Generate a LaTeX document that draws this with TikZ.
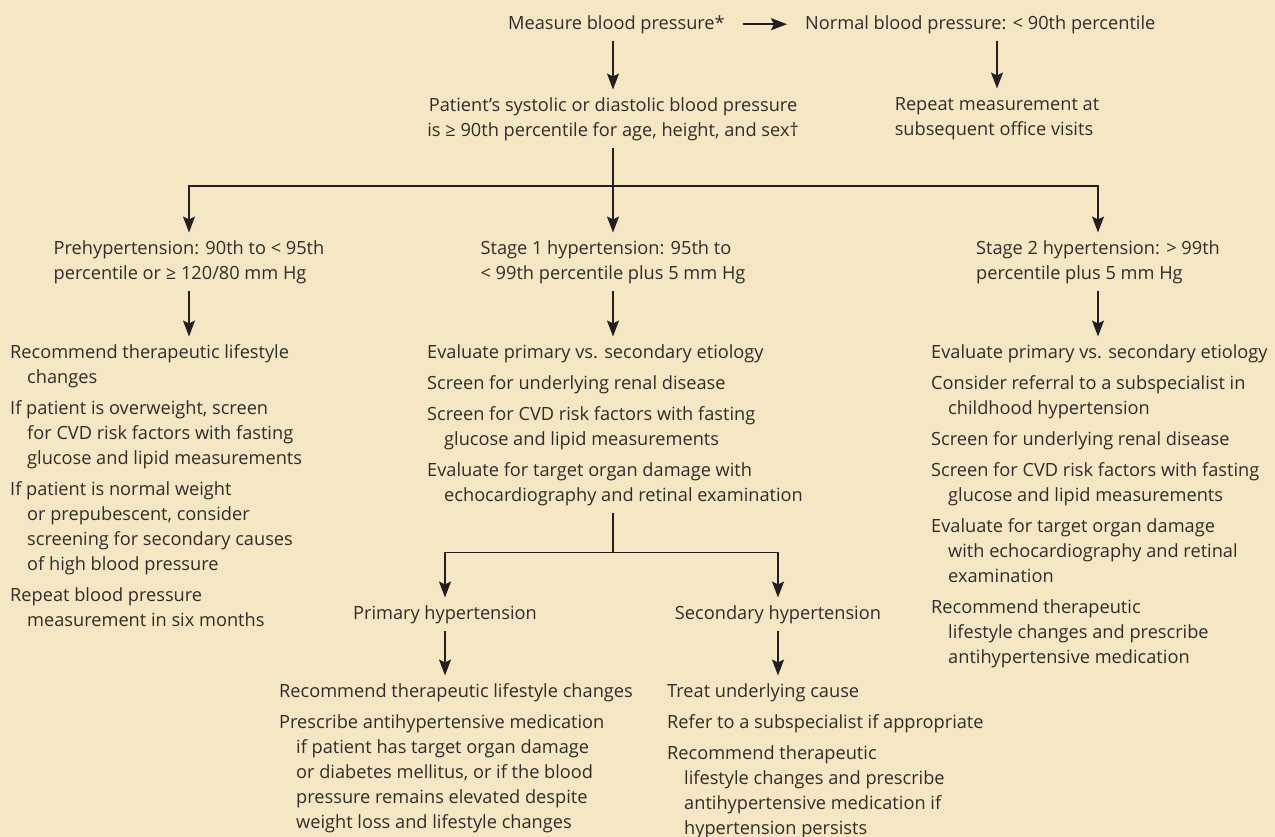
\documentclass[tikz,border=0pt]{standalone}
\usepackage{fontspec}
\setmainfont{Open Sans}
\usetikzlibrary{arrows.meta,positioning,calc}
\definecolor{paper}{RGB}{245,231,195}
\definecolor{ink}{RGB}{48,45,42}
\definecolor{linecol}{RGB}{35,31,32}
\newcommand{\flowfont}{\fontsize{18.2}{25}\selectfont}
\newcommand{\contline}{\hspace*{17pt}}
\tikzstyle{Tbox}=[inner sep=4pt,anchor=north west,align=left,text=ink,font=\flowfont]
\tikzstyle{Hbox}=[Tbox,anchor=north]
\tikzstyle{Cbox}=[Tbox,anchor=north,align=center]
\tikzstyle{flowline}=[line width=1.8pt,draw=linecol]
\tikzstyle{flowarrow}=[flowline,-{Stealth[length=16pt,width=12pt,inset=3pt]}]

\begin{document}
\begin{tikzpicture}[x=1pt,y=-1pt]
\fill[paper] (0,0) rectangle (1275,837);
\useasboundingbox (0,0) rectangle (1275,837);

\node[Tbox] (MEASURE) at (504,7.5) {\strut Measure blood pressure*\strut};
\node[Tbox] (NORMAL) at (801,7.5) {\strut Normal blood pressure: < 90th percentile\strut};

\node[Cbox] (PATIENT) at (613,89.5) {\strut Patient’s systolic or diastolic blood pressure\\
 is ≥ 90th percentile for age, height, and sex†\strut};
\node[Hbox] (REPEAT) at (997,88.5) {\strut Repeat measurement at\\
 subsequent office visits\strut};

\node[Hbox] (PRE) at (189,232.5) {\strut Prehypertension: 90th to < 95th\\
 percentile or ≥ 120/80 mm Hg\strut};
\node[Hbox] (STAGEA) at (613,232.5) {\strut Stage 1 hypertension: 95th to\\
 < 99th percentile plus 5 mm Hg\strut};
\node[Hbox] (STAGEB) at (1098,232.5) {\strut Stage 2 hypertension: > 99th\\
 percentile plus 5 mm Hg\strut};

\node[Tbox] (LEFTL) at (6,336.5) {\strut Recommend therapeutic lifestyle\\
 \contline changes\\[6pt]
 If patient is overweight, screen\\
 \contline for CVD risk factors with fasting\\
 \contline glucose and lipid measurements\\[6pt]
 If patient is normal weight\\
 \contline or prepubescent, consider\\
 \contline screening for secondary causes\\
 \contline of high blood pressure\\[6pt]
 Repeat blood pressure\\
 \contline measurement in six months\strut};

\node[Tbox] (MIDL) at (423,336.5) {\strut Evaluate primary vs. secondary etiology\\[6pt]
 Screen for underlying renal disease\\[6pt]
 Screen for CVD risk factors with fasting\\
 \contline glucose and lipid measurements\\[6pt]
 Evaluate for target organ damage with\\
 \contline echocardiography and retinal examination\strut};

\node[Tbox] (RIGHTL) at (927,336.5) {\strut Evaluate primary vs. secondary etiology\\[6pt]
 Consider referral to a subspecialist in\\
 \contline childhood hypertension\\[6pt]
 Screen for underlying renal disease\\[6pt]
 Screen for CVD risk factors with fasting\\
 \contline glucose and lipid measurements\\[6pt]
 Evaluate for target organ damage\\
 \contline with echocardiography and retinal\\
 \contline examination\\[6pt]
 Recommend therapeutic\\
 \contline lifestyle changes and prescribe\\
 \contline antihypertensive medication\strut};

\node[Cbox] (PRIM) at (445,597.5) {\strut Primary hypertension\strut};
\node[Cbox] (SEC) at (778,597.5) {\strut Secondary hypertension\strut};

\node[Tbox] (PRIML) at (275,675.5) {\strut Recommend therapeutic lifestyle changes\\[6pt]
 Prescribe antihypertensive medication\\
 \contline if patient has target organ damage\\
 \contline or diabetes mellitus, or if the blood\\
 \contline pressure remains elevated despite\\
 \contline weight loss and lifestyle changes\strut};

\node[Tbox] (SECL) at (663,675.5) {\strut Treat underlying cause\\[6pt]
 Refer to a subspecialist if appropriate\\[6pt]
 Recommend therapeutic\\
 \contline lifestyle changes and prescribe\\
 \contline antihypertensive medication if\\
 \contline hypertension persists\strut};

\coordinate (HUB) at ([yshift=-38.5pt]PATIENT.south);
\coordinate (FORK) at ([yshift=-39.5pt]STAGEA.south |- MIDL.south);

\path (MEASURE.east) edge[flowarrow,shorten <=14pt,shorten >=14pt] (NORMAL.west);
\draw[flowarrow] (PATIENT.north |- MEASURE.south) -- (PATIENT.north);
\draw[flowarrow] (REPEAT.north |- NORMAL.south) -- (REPEAT.north);

\draw[flowline] (PATIENT.south) -- (HUB);
\draw[flowarrow] (HUB) -| (PRE.north);
\draw[flowarrow] (HUB) -- (STAGEA.north);
\draw[flowarrow] (HUB) -| (STAGEB.north);

\draw[flowarrow] (PRE.south) -- (PRE.south |- LEFTL.north);
\draw[flowarrow] (STAGEA.south) -- (STAGEA.south |- MIDL.north);
\draw[flowarrow] (STAGEB.south) -- (STAGEB.south |- RIGHTL.north);

\draw[flowline] (STAGEA.south |- MIDL.south) -- (FORK);
\draw[flowarrow] (FORK) -| (PRIM.north);
\draw[flowarrow] (FORK) -| (SEC.north);
\draw[flowarrow] (PRIM.south) -- (PRIM.south |- PRIML.north);
\draw[flowarrow] (SEC.south) -- (SEC.south |- SECL.north);

\end{tikzpicture}
\end{document}
